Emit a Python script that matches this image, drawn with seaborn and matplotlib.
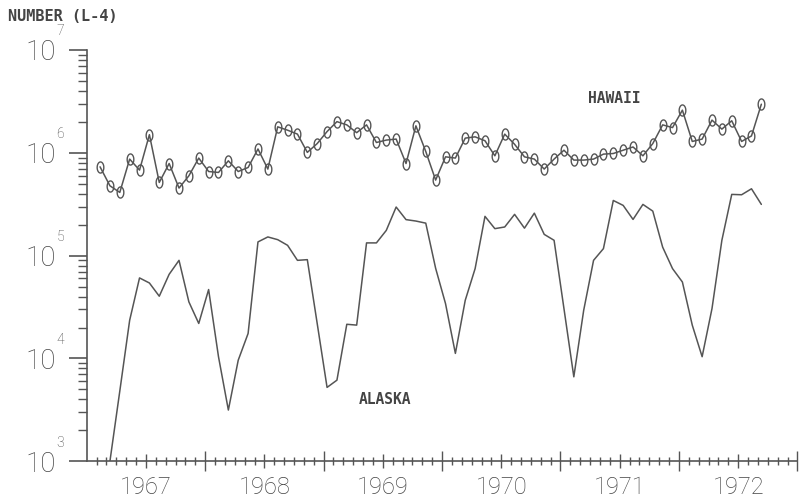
"""
Monthly visitor counts, Hawaii vs Alaska (1967-1972), log scale.
Recreates an old plotter-style chart with seaborn/matplotlib.
"""
import matplotlib

matplotlib.use("Agg")
import matplotlib.pyplot as plt
import matplotlib.ticker as mticker
import numpy as np
import pandas as pd
import seaborn as sns
from matplotlib.path import Path

# ---- data ----
HAWAII_START = "1967-02"
HAWAII = [
    # 1967 (Feb-Dec)
    7.31e5, 4.78e5, 4.12e5, 8.69e5, 6.79e5, 1.50e6, 5.15e5, 7.87e5, 4.54e5, 5.98e5, 8.89e5,
    # 1968
    6.58e5, 6.44e5, 8.36e5, 6.58e5, 7.20e5, 1.09e6, 6.95e5, 1.79e6, 1.66e6, 1.52e6, 1.01e6, 1.23e6,
    # 1969
    1.61e6, 2.01e6, 1.87e6, 1.57e6, 1.87e6, 1.26e6, 1.33e6, 1.36e6, 7.87e5, 1.83e6, 1.03e6, 5.43e5,
    # 1970
    9.14e5, 8.89e5, 1.39e6, 1.43e6, 1.31e6, 9.35e5, 1.52e6, 1.21e6, 9.14e5, 8.69e5, 6.95e5, 8.69e5,
    # 1971
    1.06e6, 8.50e5, 8.50e5, 8.69e5, 9.71e5, 9.85e5, 1.06e6, 1.14e6, 9.35e5, 1.23e6, 1.87e6, 1.76e6,
    # 1972 (Jan-Sep)
    2.60e6, 1.29e6, 1.36e6, 2.08e6, 1.70e6, 2.05e6, 1.29e6, 1.46e6, 2.97e6,
]

ALASKA_START = "1967-03"
ALASKA = [
    # 1967 (Mar-Dec)
    1.0e3, 4.81e3, 2.35e4, 6.07e4, 5.42e4, 4.03e4, 6.58e4, 9.00e4, 3.55e4, 2.19e4,
    # 1968
    4.68e4, 1.04e4, 3.15e3, 9.62e3, 1.75e4, 1.36e5, 1.52e5, 1.43e5, 1.26e5, 9.00e4, 9.14e4, 2.19e4,
    # 1969
    5.23e3, 6.15e3, 2.15e4, 2.11e4, 1.33e5, 1.33e5, 1.76e5, 2.97e5, 2.24e5, 2.17e5, 2.07e5, 7.53e4,
    # 1970
    3.42e4, 1.12e4, 3.68e4, 7.48e4, 2.41e5, 1.83e5, 1.90e5, 2.52e5, 1.85e5, 2.59e5, 1.61e5, 1.41e5,
    # 1971
    3.06e4, 6.63e3, 2.94e4, 9.00e4, 1.17e5, 3.44e5, 3.08e5, 2.25e5, 3.15e5, 2.71e5, 1.21e5, 7.48e4,
    # 1972 (Jan-Sep)
    5.54e4, 2.11e4, 1.04e4, 3.06e4, 1.41e5, 3.94e5, 3.91e5, 4.47e5, 3.15e5,
]

YEARS = [1967, 1968, 1969, 1970, 1971, 1972]
DECADES = [3, 4, 5, 6, 7]

TITLE = "NUMBER (L-4)"
INK = "#555555"
TEXT = "#444444"
THIN = ["Roboto", "DejaVu Sans"]
PLOTTER = ["DejaVu Sans Mono"]


def month_frame(start: str, values: list[float]) -> pd.DataFrame:
    months = pd.period_range(start, periods=len(values), freq="M")
    # points sit a little into each month, like the original plotter output
    x = months.year + (months.month - 1 + 0.35) / 12
    return pd.DataFrame({"x": x, "value": values})


def tall_o() -> Path:
    t = np.linspace(0, 2 * np.pi, 40)
    return Path(np.column_stack([0.3 * np.cos(t), 0.5 * np.sin(t)]))


def main() -> None:
    sns.set_theme(style="white")
    plt.rcParams["font.family"] = THIN

    hawaii = month_frame(HAWAII_START, HAWAII)
    alaska = month_frame(ALASKA_START, ALASKA)

    fig = plt.figure(figsize=(8.03, 4.99), dpi=100)
    ax = fig.add_axes([0.108, 0.0756, 0.885, 0.8242])

    sns.lineplot(data=hawaii, x="x", y="value", ax=ax, color=INK, lw=1.1,
                 marker=tall_o(), markersize=8, markerfacecolor="none",
                 markeredgecolor=INK, markeredgewidth=1.0)
    sns.lineplot(data=alaska, x="x", y="value", ax=ax, color=INK, lw=1.1)

    ax.set_yscale("log")
    ax.set_ylim(10 ** DECADES[0], 10 ** DECADES[-1])
    ax.set_xlim(YEARS[0], YEARS[-1] + 1)
    ax.set_xlabel("")
    ax.set_ylabel("")

    for side in ("top", "right"):
        ax.spines[side].set_visible(False)
    for side in ("left", "bottom"):
        ax.spines[side].set_color(INK)
        ax.spines[side].set_linewidth(1.2)

    # y: "10" labels with raised exponents
    ax.yaxis.set_major_locator(mticker.FixedLocator([10.0 ** d for d in DECADES]))
    ax.yaxis.set_major_formatter(mticker.FixedFormatter(["10"] * len(DECADES)))
    ax.yaxis.set_minor_locator(mticker.LogLocator(base=10, subs=np.arange(2, 10)))
    ax.yaxis.set_minor_formatter(mticker.NullFormatter())
    ax.tick_params(axis="y", which="major", left=True, direction="out", length=13,
                   width=1.2, color=INK, pad=9, labelsize=20, labelcolor=TEXT)
    ax.tick_params(axis="y", which="minor", left=True, direction="out", length=6.5,
                   width=1.0, color=INK)
    for lab in ax.get_yticklabels():
        lab.set_fontweight("light")
    for d in DECADES:
        ax.annotate(str(d), xy=(0, 10.0 ** d), xycoords=ax.get_yaxis_transform(),
                    xytext=(-19, 13.5), textcoords="offset points", ha="center", va="center",
                    fontsize=10, color=TEXT, fontweight="light")

    # x: month ticks, half-year ticks carrying the year labels, long year ticks
    months = [YEARS[0] + m / 12 for m in range(1, 12 * len(YEARS)) if m % 6]
    ax.xaxis.set_minor_locator(mticker.FixedLocator(months))
    ax.xaxis.set_major_locator(mticker.FixedLocator([y + 0.5 for y in YEARS]))
    ax.xaxis.set_major_formatter(mticker.FixedFormatter([str(y) for y in YEARS]))
    ax.tick_params(axis="x", which="major", bottom=True, direction="inout", length=9.4,
                   width=1.0, color=INK, pad=6, labelsize=17, labelcolor=TEXT)
    ax.tick_params(axis="x", which="minor", bottom=True, direction="inout", length=5.8,
                   width=1.0, color=INK)
    for lab in ax.get_xticklabels():
        lab.set_fontweight("light")

    sec = ax.secondary_xaxis("bottom")
    sec.set_xticks([y + 1 for y in YEARS])
    sec.tick_params(direction="inout", length=14.4, width=1.0, color=INK, labelbottom=False)
    sec.spines["bottom"].set_visible(False)

    # labels in plotter lettering
    ax.text(1971.45, 3.36e6, "HAWAII", ha="center", va="center", family=PLOTTER,
            fontsize=10.5, fontweight="bold", color=TEXT)
    ax.text(1969.52, 3.98e3, "ALASKA", ha="center", va="center", family=PLOTTER,
            fontsize=10.5, fontweight="bold", color=TEXT)
    fig.text(8 / 803, 1 - 9 / 499, TITLE, ha="left", va="top", family=PLOTTER,
             fontsize=11, fontweight="bold", color=TEXT)

    fig.savefig("out.png", dpi=100)
    plt.close(fig)


if __name__ == "__main__":
    main()
